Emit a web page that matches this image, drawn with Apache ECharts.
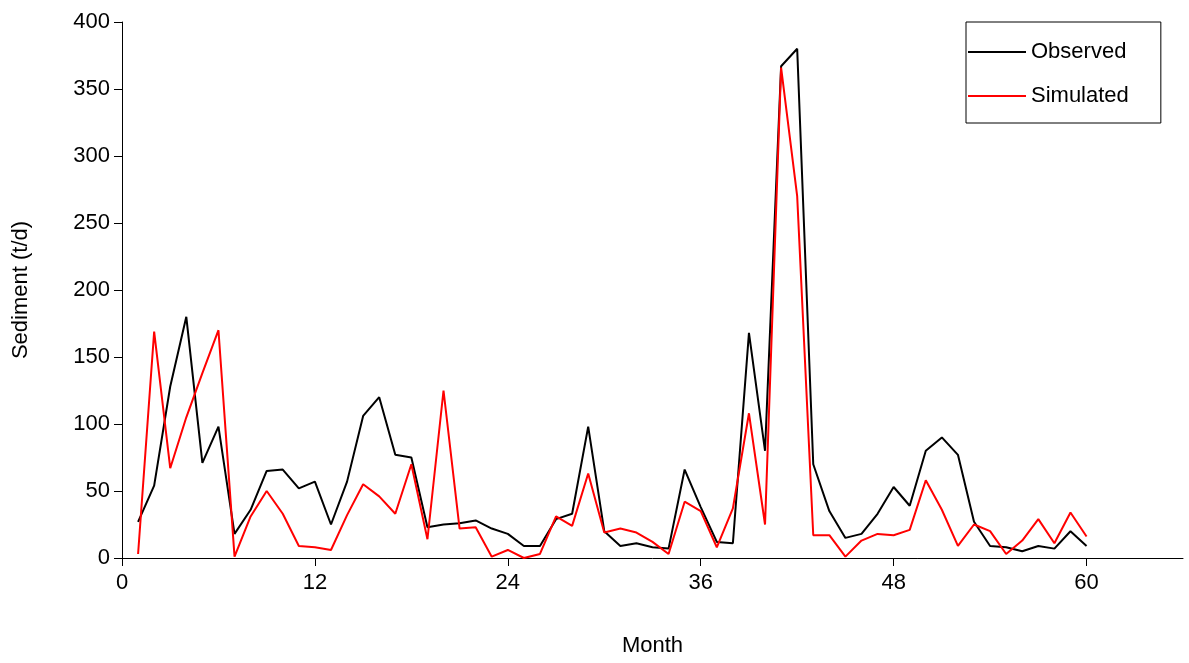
<!DOCTYPE html>
<html><head><meta charset="utf-8">
<script src="https://cdn.jsdelivr.net/npm/echarts@6/dist/echarts.min.js"></script>
<style>html,body{margin:0;background:#fff}#c{width:1189px;height:663px}</style></head>
<body><div id="c"></div>
<script>
const months = Array.from({length:60},(_,i)=>i+1);
const observed = [27,54,128,180,71,98,18,36,65,66,52,57,25,57,106,120,77,75,23,25,26,28,22,18,9,9,29,33,98,20,9,11,8,7,66,38,12,11,168,80,367,380,70,35,15,18,33,53,39,80,90,77,27,9,8,5,9,7,20,9];
const simulated = [3,169,67,105,138,170,1,31,50,33,9,8,6,32,55,46,33,70,14,125,22,23,1,6,0,3,31,24,63,19,22,19,12,3,42,35,8,37,108,25,366,270,17,17,1,13,18,17,21,58,36,9,25,20,3,13,29,11,34,16];
const pair = a => a.map((v,i)=>[months[i],v]);
const f = 'Liberation Sans, Arial, sans-serif';
const chart = echarts.init(document.getElementById('c'));
chart.setOption({
  animation:false,
  grid:{left:122,right:6,top:22,bottom:105,outerBoundsMode:'none',containLabel:false},
  legend:{left:966,top:22,orient:'vertical',itemWidth:58,itemHeight:2,itemGap:22,
    padding:[19,32,16,2],borderColor:'#000',borderWidth:1,borderRadius:0,
    textStyle:{fontFamily:f,fontSize:22,color:'#000'},
    data:[{name:'Observed',icon:'rect'},{name:'Simulated',icon:'rect'}]},
  xAxis:{type:'value',min:0,max:66,interval:12,name:'Month',nameLocation:'middle',nameGap:77,
    nameTextStyle:{fontFamily:f,fontSize:22,color:'#000'},
    axisLine:{lineStyle:{color:'#000'}},axisTick:{length:8,lineStyle:{color:'#000'}},
    axisLabel:{fontFamily:f,fontSize:22,color:'#000',margin:14,showMaxLabel:false},splitLine:{show:false}},
  yAxis:{type:'value',min:0,max:400,interval:50,name:'Sediment (t/d)',nameLocation:'middle',nameGap:90,
    nameTextStyle:{fontFamily:f,fontSize:22,color:'#000'},
    axisLine:{show:true,lineStyle:{color:'#000'}},axisTick:{show:true,length:8,lineStyle:{color:'#000'}},
    axisLabel:{fontFamily:f,fontSize:22,color:'#000',margin:12},splitLine:{show:false}},
  series:[
    {name:'Observed',type:'line',data:pair(observed),showSymbol:false,symbol:'none',color:'#000',lineStyle:{width:2,color:'#000'}},
    {name:'Simulated',type:'line',data:pair(simulated),showSymbol:false,symbol:'none',color:'#ff0000',lineStyle:{width:2,color:'#ff0000'}}
  ]
});
</script></body></html>
